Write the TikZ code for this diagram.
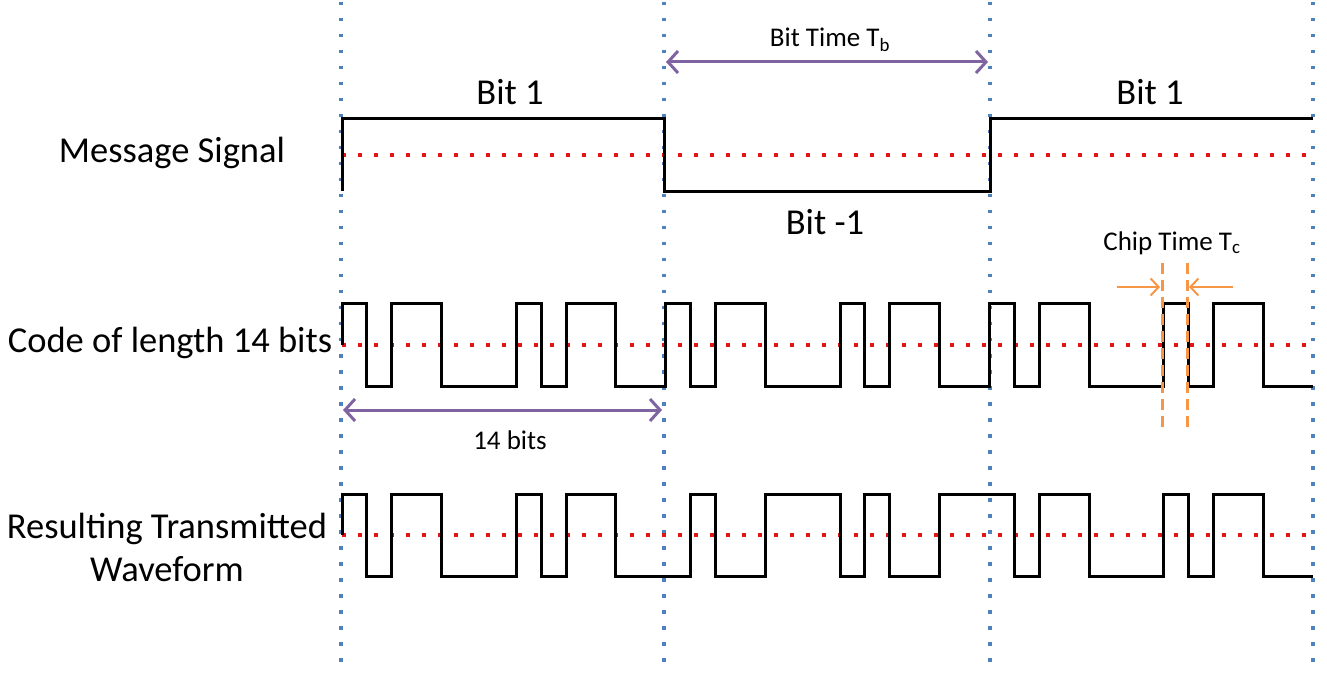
\documentclass[tikz,border=0pt]{standalone}
\usepackage{fontspec}
\setmainfont{Carlito}
\usetikzlibrary{arrows.meta}
\usetikzlibrary{positioning}

\definecolor{gridblue}{RGB}{79,129,189}
\definecolor{zerored}{RGB}{228,20,20}
\definecolor{spanpurple}{RGB}{128,100,162}
\definecolor{chiporange}{RGB}{247,150,70}

\begin{document}
\begin{tikzpicture}
[x=1pt,y=-1pt,inner sep=0pt,%
  wave/.style={draw,line width=3pt,line join=miter},
  boundary/.style={gridblue,line width=3.5pt,dash pattern=on 3.5pt off 12.5pt},
  zero/.style={zerored,line width=4pt,dash pattern=on 4pt off 12pt},
  span/.style={{Straight Barb[length=10pt,width=22pt]}-{Straight Barb[length=10pt,width=22pt]},spanpurple,line width=3pt},
  chipedge/.style={chiporange,line width=3pt,dash pattern=on 11pt off 6pt},
  chiparrow/.style={-{Straight Barb[length=8pt,width=17pt]},chiporange,line width=2pt},
  biglabel/.style={font=\fontsize{36.5}{43}\selectfont,align=center},
  smalllabel/.style={font=\fontsize{27}{32}\selectfont}]
\useasboundingbox (0,0) rectangle (1327,684);
\def\chipw{24.9}
\def\pncode{1,-1,1,1,-1,-1,-1,1,-1,1,1,-1,-1}
%% bit boundaries
\foreach \x [count=\k] in {341,664,990,1313}{
  \coordinate (top\k) at (\x,2);
  \coordinate (bot\k) at (\x,668);
  \draw[boundary] (top\k) -- (bot\k);
}
%% zero levels
\foreach \y [count=\k] in {155,345,535}{
  \coordinate (zl\k) at (342,\y);
  \coordinate (zr\k) at (1313,\y);
  \draw[zero] (zl\k) -- (zr\k);
}
%% message signal
\draw[wave] (342,191) -- (342,119) -- (664,119) -- (664,192)
  -- (990,192) -- (990,119) -- (1313,119);
%% spreading code
\draw[wave] (342,345) \foreach \b [count=\j from 0] in {1,-1,1}{
  \foreach \c [count=\i from 0] in \pncode{
    -- ({342+(13*\j+\i)*\chipw},{345-41*\c})
    -- ({342+(13*\j+\i+1)*\chipw},{345-41*\c})}};
%% transmitted waveform
\draw[wave] (342,535) \foreach \b [count=\j from 0] in {1,-1,1}{
  \foreach \c [count=\i from 0] in \pncode{
    -- ({342+(13*\j+\i)*\chipw},{535-41*\c*\b})
    -- ({342+(13*\j+\i+1)*\chipw},{535-41*\c*\b})}};
%% labels
\node[biglabel] (msglabel) at (172,153) {Message Signal};
\node[biglabel] (codelabel) at (170,343) {Code of length 14 bits};
\node[biglabel] (txlabel) at (167,547) {Resulting Transmitted\\Waveform};
\node[biglabel] (bitA) at (510,92) {Bit 1};
\node[biglabel] (bitB) at (825,222) {Bit -1};
\node[biglabel] (bitC) at (1150,92) {Bit 1};
%% bit time
\coordinate (tbL) at (666,62);
\coordinate (tbR) at (988,62);
\draw[span] (tbL) -- (tbR);
\node[smalllabel] (bittime) at (830,40) {Bit Time T\textsubscript{b}};
%% code length
\coordinate (clL) at (343,410);
\coordinate (clR) at (662,410);
\draw[span] (clL) -- (clR);
\node[smalllabel] (codelen) at (510,440) {14 bits};
%% chip time
\coordinate (ctA) at (1162,263);
\coordinate (ctB) at (1162,433);
\coordinate (ctC) at (1187,263);
\coordinate (ctD) at (1187,433);
\draw[chipedge] (ctA) -- (ctB);
\draw[chipedge] (ctC) -- (ctD);
\coordinate (caL) at (1117,287);
\coordinate (caR) at (1233,287);
\draw[chiparrow] (caL) -- (1160,287);
\draw[chiparrow] (caR) -- (1189,287);
\node[smalllabel] (chiptime) at (1172,243) {Chip Time T\textsubscript{c}};
\end{tikzpicture}
\end{document}
